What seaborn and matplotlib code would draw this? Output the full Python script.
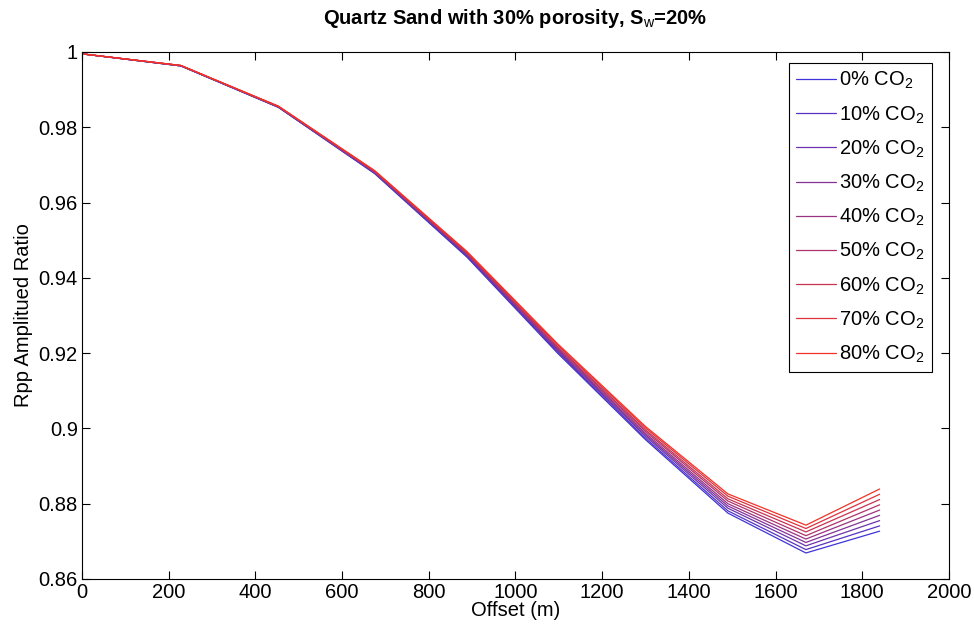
import pandas as pd
import matplotlib
matplotlib.use("Agg")
import matplotlib.pyplot as plt
import seaborn as sns

# offsets (m)
offset = [0, 228, 453, 675, 888, 1097, 1300, 1490, 1670, 1840]

# Rpp amplitude ratio for each CO2 saturation
co2_0 = [0.9995, 0.9963, 0.9853, 0.9677, 0.9455, 0.9200, 0.8970, 0.8775, 0.8669, 0.8727]
co2_10 = [0.9995, 0.9963, 0.9853, 0.9678, 0.9457, 0.9203, 0.8974, 0.8781, 0.8678, 0.8741]
co2_20 = [0.9995, 0.9963, 0.9854, 0.9679, 0.9459, 0.9206, 0.8979, 0.8788, 0.8688, 0.8755]
co2_30 = [0.9995, 0.9963, 0.9854, 0.9680, 0.9461, 0.9209, 0.8983, 0.8794, 0.8697, 0.8769]
co2_40 = [0.9995, 0.9964, 0.9854, 0.9681, 0.9463, 0.9212, 0.8987, 0.8800, 0.8706, 0.8783]
co2_50 = [0.9995, 0.9964, 0.9855, 0.9682, 0.9464, 0.9215, 0.8992, 0.8807, 0.8715, 0.8797]
co2_60 = [0.9995, 0.9964, 0.9855, 0.9683, 0.9466, 0.9218, 0.8996, 0.8813, 0.8725, 0.8811]
co2_70 = [0.9995, 0.9964, 0.9856, 0.9684, 0.9468, 0.9222, 0.9001, 0.8820, 0.8734, 0.8825]
co2_80 = [0.9995, 0.9964, 0.9856, 0.9685, 0.9470, 0.9225, 0.9005, 0.8826, 0.8743, 0.8839]

series = [co2_0, co2_10, co2_20, co2_30, co2_40, co2_50, co2_60, co2_70, co2_80]
labels = ["%d%% CO$_2$" % p for p in [0, 10, 20, 30, 40, 50, 60, 70, 80]]

rows = []
for lab, vals in zip(labels, series):
    for x, y in zip(offset, vals):
        rows.append({"offset": x, "ratio": y, "co2": lab})
df = pd.DataFrame(rows)

# blue -> red, like matlab's [i/8 0 1-i/8]
n = len(labels)
colors = [(0.25 + 0.7 * i / (n - 1), 0.2, 0.85 - 0.7 * i / (n - 1)) for i in range(n)]

sns.set_style("ticks")
plt.rcParams["font.family"] = ["Liberation Sans", "DejaVu Sans"]
plt.rcParams["mathtext.fontset"] = "custom"
plt.rcParams["mathtext.rm"] = "Liberation Sans"
plt.rcParams["mathtext.it"] = "Liberation Sans"
plt.rcParams["mathtext.bf"] = "Liberation Sans:bold"
plt.rcParams["text.color"] = "black"
plt.rcParams["axes.labelcolor"] = "black"
plt.rcParams["xtick.color"] = "black"
plt.rcParams["ytick.color"] = "black"
plt.rcParams["axes.edgecolor"] = "black"

fs = 14.5

fig = plt.figure(figsize=(9.74, 6.30), dpi=100)
ax = fig.add_axes([0.0842, 0.081, 0.8901, 0.8365])

sns.lineplot(data=df, x="offset", y="ratio", hue="co2", palette=colors,
             linewidth=0.9, ax=ax, legend=True)

ax.set_xlim(0, 2000)
ax.set_ylim(0.86, 1.0)
ax.set_xticks(range(0, 2001, 200))
ax.set_yticks([0.86, 0.88, 0.9, 0.92, 0.94, 0.96, 0.98, 1.0])
ax.set_yticklabels(["0.86", "0.88", "0.9", "0.92", "0.94", "0.96", "0.98", "1"])
ax.tick_params(direction="in", top=True, right=True, labelsize=fs, length=6,
               width=0.8, pad=3)
for s in ax.spines.values():
    s.set_linewidth(0.8)

ax.set_xlabel("Offset (m)", fontsize=fs, labelpad=-1)
ax.set_ylabel("Rpp Amplitued Ratio", fontsize=fs, labelpad=4)
ax.set_title("Quartz Sand with 30% porosity, S$_\\mathrm{w}$=20%", fontsize=fs,
             fontweight="bold", pad=20)

handles, _ = ax.get_legend_handles_labels()
leg = ax.legend(handles, labels, loc="upper right", bbox_to_anchor=(0.98, 0.979),
                fontsize=fs, frameon=True, fancybox=False, edgecolor="black",
                framealpha=1, labelspacing=0.64, handlelength=2.0, handletextpad=0.15,
                borderpad=0.35, borderaxespad=0)
leg.get_frame().set_linewidth(0.8)

fig.savefig("out.png", dpi=100)
